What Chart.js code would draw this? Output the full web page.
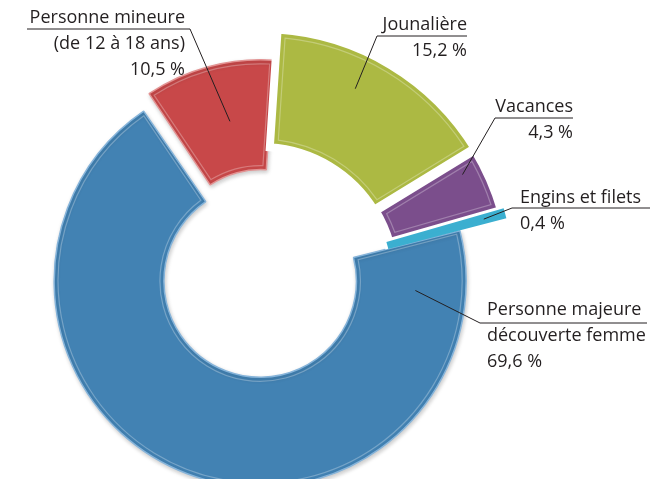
<!DOCTYPE html>
<html>
<head>
<meta charset="utf-8">
<script src="https://cdn.jsdelivr.net/npm/chart.js@4"></script>
<style>
  html, body { margin: 0; padding: 0; background: #fff; }
  #wrap { width: 659px; height: 479px; position: relative; }
  .layer { position: absolute; left: 0; top: 0; width: 659px; height: 479px; }
</style>
</head>
<body>
<div id="wrap">
  <div class="layer"><canvas id="back"></canvas></div>
  <div class="layer"><canvas id="front"></canvas></div>
</div>
<script>
// data
const categories = ['Personne mineure (de 12 à 18 ans)', 'Jounalière', 'Vacances', 'Engins et filets', 'Personne majeure découverte femme'];
const labelLines = [
    ['Personne mineure', '(de 12 à 18 ans)'],
    ['Jounalière'],
    ['Vacances'],
    ['Engins et filets'],
    ['Personne majeure', 'découverte femme']
];
const shares = [10.5, 15.2, 4.3, 0.4, 69.6];
const shareLabels = ['10,5 %', '15,2 %', '4,3 %', '0,4 %', '69,6 %'];

const fills = ['#c84849', '#acb943', '#7b4e8c', '#3bafd0', '#4282b3'];
const tints = ['#e39393', '#d3dc8c', '#a889b6', '#92d8ec', '#86b4da'];

// the exploded outer group (Jounalière, Vacances, Engins) sits on a wider ring
const inFront = [false, true, true, true, false];
const frontBorder = [0, 8, 10, 4, 0];

// label placement and where each leader lands on its slice (angle / depth fractions)
const labelLayout = [
    { x: 185, y: 23, align: 'right', lineY: 29, from: 27, to: 190, elbow: 190, f: 0.57, g: 0.47 },
    { x: 467, y: 30, align: 'right', lineY: 36, from: 377, to: 467, elbow: 377, f: 0.41, g: 0.68 },
    { x: 573, y: 112, align: 'right', lineY: 118, from: 495, to: 573, elbow: 495, f: 0.25, g: 0.8 },
    { x: 520, y: 203, align: 'left', lineY: 208, from: 512, to: 650, elbow: 512, f: 0.5, g: 0.83 },
    { x: 487, y: 315, align: 'left', lineY: 323, from: 480, to: 647, elbow: 480, f: 0.072, g: 0.54 }
];

const charts = {};

function arcGeom(arc) {
    const p = arc.getProps(['x', 'y', 'startAngle', 'endAngle', 'innerRadius', 'outerRadius', 'circumference'], true);
    const mid = (p.startAngle + p.endAngle) / 2;
    const shift = (arc.options.offset || 0) / 4;
    const grow = shift * (1 - Math.sin(Math.min(Math.PI, p.circumference)));
    return {
        cx: p.x + Math.cos(mid) * shift,
        cy: p.y + Math.sin(mid) * shift,
        s: p.startAngle, e: p.endAngle,
        ri: p.innerRadius + grow, ro: p.outerRadius + grow
    };
}

function anchorOf(arc, L) {
    const q = arcGeom(arc);
    const a = q.s + L.f * (q.e - q.s);
    const r = q.ri + L.g * (q.ro - q.ri);
    return [q.cx + Math.cos(a) * r, q.cy + Math.sin(a) * r];
}

// thin light line just inside each slice, a hint of the bevelled look
const bevel = {
    id: 'bevel',
    afterDatasetsDraw(chart, args, opts) {
        const ctx = chart.ctx;
        chart.getDatasetMeta(0).data.forEach((arc, i) => {
            if (opts.show[i] === false) return;
            const q = arcGeom(arc);
            const d = opts.inset[i];
            const ro = q.ro - d, ri = q.ri + d;
            ctx.save();
            ctx.beginPath();
            ctx.arc(q.cx, q.cy, ro, q.s + d / ro, q.e - d / ro);
            ctx.arc(q.cx, q.cy, ri, q.e - d / ri, q.s + d / ri, true);
            ctx.closePath();
            ctx.strokeStyle = 'rgba(255,255,255,0.28)';
            ctx.lineWidth = 1.2;
            ctx.stroke();
            ctx.restore();
        });
    }
};

const leaderLabels = {
    id: 'leaderLabels',
    afterDraw(chart) {
        const back = charts.back;
        if (!back) return;
        const ctx = chart.ctx;
        ctx.save();
        ctx.font = '18px "Open Sans"';
        ctx.fillStyle = '#231f20';
        ctx.strokeStyle = '#231f20';
        ctx.lineWidth = 1;
        shares.forEach((v, i) => {
            const L = labelLayout[i];
            const src = inFront[i] ? chart : back;
            const [ax, ay] = anchorOf(src.getDatasetMeta(0).data[i], L);

            ctx.beginPath();
            ctx.moveTo(L.from, L.lineY);
            ctx.lineTo(L.to, L.lineY);
            ctx.moveTo(L.elbow, L.lineY);
            ctx.lineTo(ax, ay);
            ctx.stroke();

            ctx.textAlign = L.align;
            labelLines[i].concat([shareLabels[i]]).forEach((t, k) => {
                ctx.fillText(t, L.x, L.y + k * 26);
            });
        });
        ctx.restore();
    }
};

const softShadow = {
    id: 'softShadow',
    beforeDatasetsDraw(chart) {
        const ctx = chart.ctx;
        ctx.save();
        ctx.shadowColor = 'rgba(0,0,0,0.2)';
        ctx.shadowBlur = 4;
        ctx.shadowOffsetX = 1;
        ctx.shadowOffsetY = 2;
    },
    afterDatasetsDraw(chart) {
        chart.ctx.restore();
    }
};

const baseOptions = {
    responsive: true,
    maintainAspectRatio: false,
    animation: false,
    rotation: -34,
    events: []
};

// back ring: Personne majeure and Personne mineure
charts.back = new Chart(document.getElementById('back'), {
    type: 'doughnut',
    data: {
        labels: categories,
        datasets: [{
            data: shares,
            backgroundColor: fills.map((c, i) => inFront[i] ? 'rgba(0,0,0,0)' : c),
            borderColor: tints.map((c, i) => inFront[i] ? 'rgba(0,0,0,0)' : c),
            borderWidth: shares.map((v, i) => inFront[i] ? 0 : 1.5),
            offset: [47, 0, 0, 0, 40]
        }]
    },
    options: Object.assign({}, baseOptions, {
        radius: 196,
        cutout: '44%',
        layout: { padding: { left: 0, right: 131.6, top: 64.4, bottom: 0 } },
        plugins: {
            legend: { display: false },
            tooltip: { enabled: false },
            bevel: { show: inFront.map(v => !v), inset: [4, 0, 0, 0, 4] }
        }
    }),
    plugins: [softShadow, bevel]
});

// front ring: Jounalière, Vacances, Engins et filets (white strokes open the gaps)
charts.front = new Chart(document.getElementById('front'), {
    type: 'doughnut',
    data: {
        labels: categories,
        datasets: [{
            data: shares,
            backgroundColor: fills.map((c, i) => inFront[i] ? c : 'rgba(0,0,0,0)'),
            borderColor: ['rgba(0,0,0,0)', '#ffffff', '#ffffff', fills[3], 'rgba(0,0,0,0)'],
            borderWidth: frontBorder,
            borderJoinStyle: 'miter'
        }]
    },
    options: Object.assign({}, baseOptions, {
        radius: 251,
        cutout: '53%',
        layout: { padding: { left: 0, right: 137, top: 81, bottom: 0 } },
        plugins: {
            legend: { display: false },
            tooltip: { enabled: false },
            bevel: { show: [false, true, true, false, false], inset: frontBorder.map(b => b / 2 + 4) }
        }
    }),
    plugins: [bevel, leaderLabels]
});
</script>
</body>
</html>
